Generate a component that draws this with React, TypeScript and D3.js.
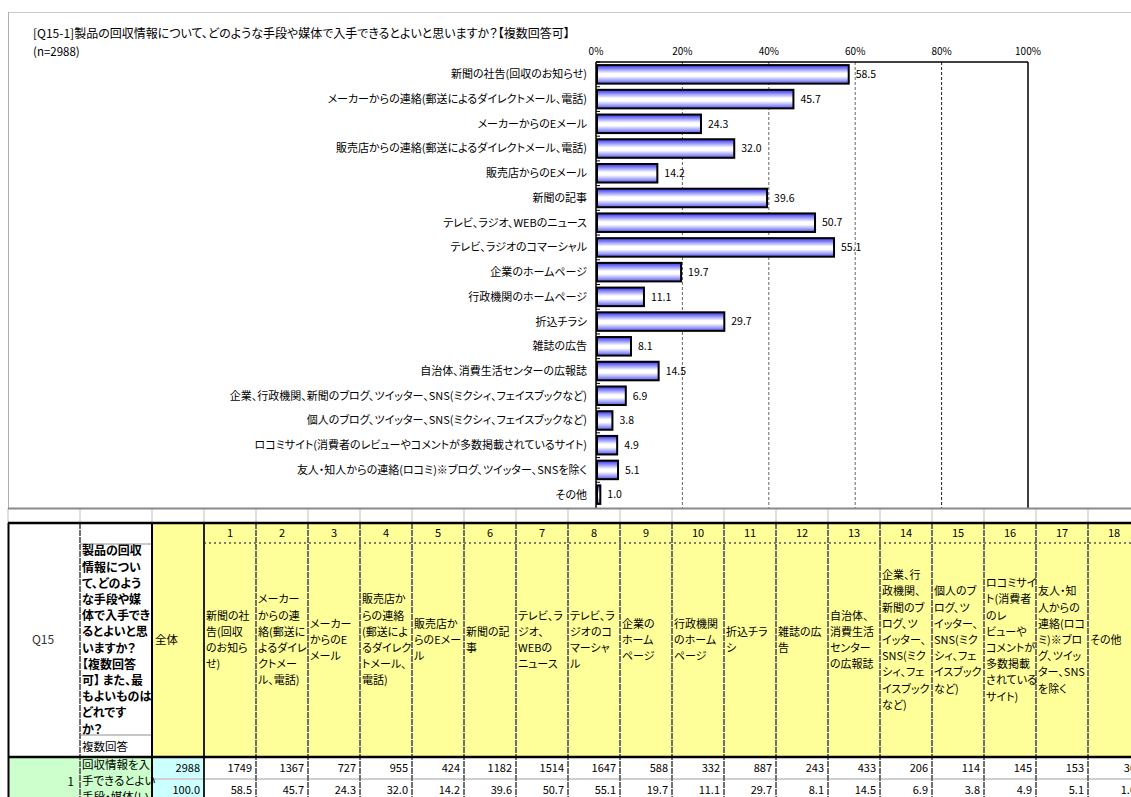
import React from "react";
import * as d3 from "d3";

// ---------- data ----------
const TITLE =
  "[Q15-1]製品の回収情報について、どのような手段や媒体で入手できるとよいと思いますか？【複数回答可】";
const SUBTITLE = "(n=2988)";

const categories = [
  "新聞の社告(回収のお知らせ)",
  "メーカーからの連絡(郵送によるダイレクトメール、電話)",
  "メーカーからのEメール",
  "販売店からの連絡(郵送によるダイレクトメール、電話)",
  "販売店からのEメール",
  "新聞の記事",
  "テレビ、ラジオ、WEBのニュース",
  "テレビ、ラジオのコマーシャル",
  "企業のホームページ",
  "行政機関のホームページ",
  "折込チラシ",
  "雑誌の広告",
  "自治体、消費生活センターの広報誌",
  "企業、行政機関、新聞のブログ、ツイッター、SNS(ミクシィ、フェイスブックなど)",
  "個人のブログ、ツイッター、SNS(ミクシィ、フェイスブックなど)",
  "ロコミサイト(消費者のレビューやコメントが多数掲載されているサイト)",
  "友人・知人からの連絡(ロコミ)※ブログ、ツイッター、SNSを除く",
  "その他",
];

const values = [58.5, 45.7, 24.3, 32.0, 14.2, 39.6, 50.7, 55.1, 19.7, 11.1, 29.7, 8.1, 14.5, 6.9, 3.8, 4.9, 5.1, 1.0];
const counts = [1749, 1367, 727, 955, 424, 1182, 1514, 1647, 588, 332, 887, 243, 433, 206, 114, 145, 153, 30];
const totalCount = 2988;
const totalPct = "100.0";

const xTicks = [0, 20, 40, 60, 80, 100];

const columnNumbers = ["1", "2", "3", "4", "5", "6", "7", "8", "9", "10", "11", "12", "13", "14", "15", "16", "17", "18"];

const columnHeaderLines = [
  ["新聞の社", "告(回収", "のお知ら", "せ)"],
  ["メーカー", "からの連", "絡(郵送に", "よるダイレ", "クトメー", "ル、電話)"],
  ["メーカー", "からのE", "メール"],
  ["販売店か", "らの連絡", "(郵送によ", "るダイレク", "トメール、", "電話)"],
  ["販売店か", "らのEメー", "ル"],
  ["新聞の記", "事"],
  ["テレビ、ラ", "ジオ、", "WEBの", "ニュース"],
  ["テレビ、ラ", "ジオのコ", "マーシャ", "ル"],
  ["企業の", "ホーム", "ページ"],
  ["行政機関", "のホーム", "ページ"],
  ["折込チラ", "シ"],
  ["雑誌の広", "告"],
  ["自治体、", "消費生活", "センター", "の広報誌"],
  ["企業、行", "政機関、", "新聞のブ", "ログ、ツ", "イッター、", "SNS(ミク", "シィ、フェ", "イスブック", "など)"],
  ["個人のブ", "ログ、ツ", "イッター、", "SNS(ミク", "シィ、フェ", "イスブック", "など)"],
  ["ロコミサイ", "ト(消費者", "のレ", "ビューや", "コメントが", "多数掲載", "されている", "サイト)"],
  ["友人・知", "人からの", "連絡(ロコ", "ミ)※ブロ", "グ、ツイッ", "ター、SNS", "を除く"],
  ["その他"],
];

const questionCode = "Q15";
const questionLines = [
  "製品の回収",
  "情報につい",
  "て、どのよう",
  "な手段や媒",
  "体で入手でき",
  "るとよいと思",
  "いますか？",
  "【複数回答",
  "可】 また、最",
  "もよいものは",
  "どれです",
  "か？",
];
const answerTypeLabel = "複数回答";
const totalLabel = "全体";
const rowNumber = "1";
const rowLabelLines = ["回収情報を入", "手できるとよい", "手段・媒体(い"];

// ---------- styles ----------
const FONT_JP = "'Noto Sans CJK JP', 'Noto Sans', sans-serif";
const FONT_NUM = "'Liberation Sans Narrow', 'Arial Narrow', 'Noto Sans CJK JP', sans-serif";
const PALT: React.CSSProperties = { fontFeatureSettings: '"palt"' };
const YELLOW = "#ffff99";
const GREEN = "#ccffcc";
const CYAN = "#ccffff";

const W = 1131;
const H = 797;

export default function App() {
  // chart scales
  const x = d3.scaleLinear().domain([0, 100]).range([596, 1028]);
  const y = d3.scaleBand<string>().domain(categories).range([62, 507]).paddingInner(0.25).paddingOuter(0.125);
  const step = y.step();

  // table layout
  const tableLeft = 8;
  const colBX = 80;
  const colCX = 152;
  const dataX = 204;
  const col = d3.scaleBand<string>().domain(columnNumbers).range([dataX, dataX + 52 * columnNumbers.length]);
  const cw = col.bandwidth();
  const chartBottom = 508.5;
  const tTop = 523;
  const numRowBottom = 543;
  const labelBottom = 735;
  const headBottom = 757;
  const rowMid = 779;
  const tBottom = 800;
  const lineH = 16.2;
  const headerCenter = 640;

  const gridBounds = [tableLeft, colBX, colCX, ...columnNumbers.map((c) => col(c) as number), dataX + 52 * columnNumbers.length];

  return (
    <svg
      width={W}
      height={H}
      style={{ position: "absolute", left: 0, top: 0, background: "#fff", ...PALT }}
      fontFamily={FONT_JP}
    >
      <defs>
        <linearGradient id="barGrad" x1="0" y1="0" x2="0" y2="1">
          <stop offset="0" stopColor="#3030f0" />
          <stop offset="0.45" stopColor="#ffffff" />
          <stop offset="0.6" stopColor="#ffffff" />
          <stop offset="1" stopColor="#5858f0" />
        </linearGradient>
      </defs>

      {/* chart frame */}
      <line x1={8} x2={W} y1={12.5} y2={12.5} stroke="#c8c8c8" strokeWidth={1} />
      <line x1={8.5} x2={8.5} y1={12} y2={chartBottom} stroke="#b0b0b0" strokeWidth={1} />

      {/* title */}
      <text x={33} y={38} fontSize={12} fill="#000" style={PALT}>{TITLE}</text>
      <text x={33} y={56} fontSize={11.5} fill="#000" fontFamily={FONT_NUM}>{SUBTITLE}</text>

      {/* x tick labels */}
      {xTicks.map((t) => (
        <text key={t} x={x(t)} y={55} fontSize={10} textAnchor="middle" fontFamily={FONT_NUM} fill="#000">
          {t}%
        </text>
      ))}

      {/* gridlines */}
      {xTicks.filter((t) => t > 0 && t < 100).map((t) => (
        <line
          key={t}
          x1={x(t)}
          x2={x(t)}
          y1={62}
          y2={chartBottom}
          stroke={t === 80 ? "#222" : "#666"}
          strokeWidth={1}
          strokeDasharray="3,2"
        />
      ))}

      {/* plot border */}
      <line x1={x(0)} x2={x(100)} y1={62} y2={62} stroke="#000" strokeWidth={1.5} />
      <line x1={x(100)} x2={x(100)} y1={62} y2={chartBottom} stroke="#000" strokeWidth={1.5} />
      <line x1={x(0)} x2={x(0)} y1={62} y2={chartBottom} stroke="#000" strokeWidth={1.5} />

      {/* category ticks */}
      {categories.map((c, i) => (
        <line
          key={"tk" + i}
          x1={x(0)}
          x2={x(0) + 4}
          y1={(y(c) as number) - (step - y.bandwidth()) / 2}
          y2={(y(c) as number) - (step - y.bandwidth()) / 2}
          stroke="#000"
          strokeWidth={1}
        />
      ))}

      {/* bars */}
      {categories.map((c, i) => (
        <rect
          key={"b" + i}
          x={x(0) + 1}
          y={y(c) as number}
          width={x(values[i]) - x(0) - 1}
          height={y.bandwidth()}
          fill="url(#barGrad)"
          stroke="#000"
          strokeWidth={2}
        />
      ))}

      {/* category labels */}
      {categories.map((c, i) => (
        <text
          key={"c" + i}
          x={587}
          y={(y(c) as number) + y.bandwidth() / 2}
          dy="0.36em"
          fontSize={11}
          textAnchor="end"
          fill="#000"
          style={PALT}
        >
          {c}
        </text>
      ))}

      {/* value labels */}
      {categories.map((c, i) => (
        <text
          key={"v" + i}
          x={x(values[i]) + 7}
          y={(y(c) as number) + y.bandwidth() / 2}
          dy="0.36em"
          fontSize={10.5}
          fontFamily={FONT_NUM}
          fill="#000"
        >
          {values[i].toFixed(1)}
        </text>
      ))}

      {/* ---------- table ---------- */}
      <rect x={colCX} y={tTop} width={dataX - colCX} height={headBottom - tTop} fill={YELLOW} />
      <rect x={dataX} y={tTop} width={W - dataX} height={headBottom - tTop} fill={YELLOW} />
      <rect x={tableLeft} y={headBottom} width={colCX - tableLeft} height={tBottom - headBottom} fill={GREEN} />
      <rect x={colCX} y={headBottom} width={dataX - colCX} height={tBottom - headBottom} fill={CYAN} />

      {gridBounds.map((gx, i) => (
        <line key={"g" + i} x1={gx} x2={gx} y1={chartBottom} y2={tTop} stroke="#d4d4d4" strokeWidth={1.5} />
      ))}

      <line x1={8} x2={W} y1={chartBottom} y2={chartBottom} stroke="#8a8a8a" strokeWidth={2} />

      <line x1={colBX} x2={colCX} y1={544} y2={544} stroke="#c8c8c8" strokeWidth={2} />
      <line x1={colBX} x2={colCX} y1={labelBottom} y2={labelBottom} stroke="#c8c8c8" strokeWidth={2} />
      <line x1={colCX} x2={W} y1={rowMid} y2={rowMid} stroke="#cfcfcf" strokeWidth={2} />
      <line x1={dataX} x2={W} y1={numRowBottom} y2={numRowBottom} stroke="#555" strokeWidth={1.5} strokeDasharray="2,3" />

      <line x1={colBX} x2={colBX} y1={tTop} y2={tBottom} stroke="#707070" strokeWidth={2} strokeDasharray="6,1" />
      {columnNumbers.slice(1).map((c) => (
        <line
          key={"s" + c}
          x1={col(c) as number}
          x2={col(c) as number}
          y1={tTop}
          y2={tBottom}
          stroke="#707070"
          strokeWidth={2}
          strokeDasharray="6,1"
        />
      ))}
      <line x1={colCX} x2={colCX} y1={tTop} y2={tBottom} stroke="#000" strokeWidth={2} />
      <line x1={dataX} x2={dataX} y1={tTop} y2={tBottom} stroke="#222" strokeWidth={2} />
      <line x1={tableLeft + 0.5} x2={tableLeft + 0.5} y1={tTop} y2={tBottom} stroke="#000" strokeWidth={2} />

      <line x1={tableLeft} x2={W} y1={tTop} y2={tTop} stroke="#000" strokeWidth={2.5} />
      <line x1={tableLeft} x2={W} y1={headBottom} y2={headBottom} stroke="#000" strokeWidth={2.5} />

      {/* header texts */}
      <text x={(tableLeft + colBX) / 2 - 1} y={headerCenter} dy="0.36em" fontSize={12} textAnchor="middle" fill="#333">
        {questionCode}
      </text>
      {questionLines.map((l, i) => (
        <text key={"q" + i} x={82} y={551 + i * lineH} dy="0.36em" fontSize={12} fontWeight={700} fill="#000" style={PALT}>
          {l}
        </text>
      ))}
      <text x={82} y={747} dy="0.36em" fontSize={11.5} fill="#000" style={PALT}>{answerTypeLabel}</text>
      <text x={155} y={headerCenter} dy="0.36em" fontSize={11.5} fill="#000">{totalLabel}</text>

      {columnNumbers.map((c, i) => (
        <g key={"h" + c}>
          <text x={(col(c) as number) + cw / 2} y={533} dy="0.36em" fontSize={11} textAnchor="middle" fontFamily={FONT_NUM} fill="#000">
            {c}
          </text>
          {columnHeaderLines[i].map((l, j) => (
            <text
              key={j}
              x={(col(c) as number) + 2}
              y={headerCenter + (j - (columnHeaderLines[i].length - 1) / 2) * lineH}
              dy="0.36em"
              fontSize={11}
              fill="#000"
              style={PALT}
            >
              {l}
            </text>
          ))}
        </g>
      ))}

      {/* data row */}
      <text x={74} y={782} dy="0.36em" fontSize={11.5} textAnchor="end" fontFamily={FONT_NUM} fill="#000">{rowNumber}</text>
      {rowLabelLines.map((l, i) => (
        <text key={"r" + i} x={82} y={765 + i * 16} dy="0.36em" fontSize={11.5} fill="#000" style={PALT}>
          {l}
        </text>
      ))}
      <text x={dataX - 4} y={768} dy="0.36em" fontSize={11} textAnchor="end" fontFamily={FONT_NUM} fill="#000">{totalCount}</text>
      <text x={dataX - 4} y={790} dy="0.36em" fontSize={11} textAnchor="end" fontFamily={FONT_NUM} fill="#000">{totalPct}</text>
      {columnNumbers.map((c, i) => (
        <g key={"d" + c}>
          <text x={(col(c) as number) + cw - 4} y={768} dy="0.36em" fontSize={11} textAnchor="end" fontFamily={FONT_NUM} fill="#000">
            {counts[i]}
          </text>
          <text x={(col(c) as number) + cw - 4} y={790} dy="0.36em" fontSize={11} textAnchor="end" fontFamily={FONT_NUM} fill="#000">
            {values[i].toFixed(1)}
          </text>
        </g>
      ))}
    </svg>
  );
}
